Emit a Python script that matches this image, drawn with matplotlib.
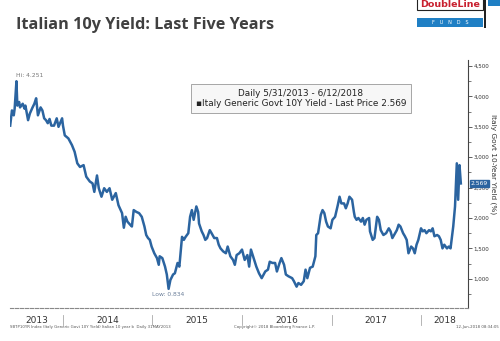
"""
Italian 10y yield, last five years (Bloomberg style chart).
"""

import matplotlib
matplotlib.use('Agg')
import matplotlib.pyplot as plt
import matplotlib.patches as mpatches
import matplotlib.transforms as mtransforms
from matplotlib.ticker import FuncFormatter, MultipleLocator

# dates as decimal years, yields in %
dates = [2013.41, 2013.43, 2013.45, 2013.46, 2013.48, 2013.49, 2013.51, 2013.52, 2013.55, 2013.57,
         2013.58, 2013.61, 2013.63, 2013.66, 2013.68, 2013.70, 2013.72, 2013.75, 2013.77, 2013.79,
         2013.81, 2013.83, 2013.85, 2013.87, 2013.90, 2013.93, 2013.95, 2013.99, 2014.00, 2014.02,
         2014.06, 2014.10, 2014.13, 2014.16, 2014.19, 2014.23, 2014.26, 2014.30, 2014.33, 2014.35,
         2014.38, 2014.40, 2014.43, 2014.46, 2014.49, 2014.52, 2014.55, 2014.59, 2014.62, 2014.66,
         2014.68, 2014.70, 2014.72, 2014.75, 2014.77, 2014.79, 2014.82, 2014.85, 2014.88, 2014.91,
         2014.93, 2014.95, 2014.97, 2014.99, 2015.02, 2015.05, 2015.07, 2015.08, 2015.11, 2015.14,
         2015.16, 2015.18, 2015.20, 2015.23, 2015.25, 2015.28, 2015.30, 2015.33, 2015.35, 2015.37,
         2015.40, 2015.42, 2015.44, 2015.46, 2015.49, 2015.51, 2015.52, 2015.55, 2015.57, 2015.59,
         2015.61, 2015.64, 2015.66, 2015.69, 2015.72, 2015.74, 2015.76, 2015.79, 2015.82, 2015.84,
         2015.87, 2015.90, 2015.92, 2015.94, 2015.97, 2016.00, 2016.03, 2016.06, 2016.08, 2016.10,
         2016.13, 2016.16, 2016.19, 2016.22, 2016.26, 2016.29, 2016.31, 2016.34, 2016.37, 2016.39,
         2016.42, 2016.44, 2016.47, 2016.49, 2016.52, 2016.56, 2016.58, 2016.61, 2016.63, 2016.66,
         2016.69, 2016.71, 2016.73, 2016.76, 2016.79, 2016.82, 2016.83, 2016.85, 2016.88, 2016.90,
         2016.92, 2016.94, 2016.96, 2016.99, 2017.01, 2017.04, 2017.07, 2017.09, 2017.11, 2017.14,
         2017.16, 2017.18, 2017.20, 2017.23, 2017.25, 2017.26, 2017.28, 2017.30, 2017.33, 2017.35,
         2017.37, 2017.39, 2017.42, 2017.43, 2017.46, 2017.48, 2017.51, 2017.53, 2017.55, 2017.58,
         2017.61, 2017.64, 2017.66, 2017.68, 2017.71, 2017.73, 2017.75, 2017.77, 2017.80, 2017.82,
         2017.84, 2017.86, 2017.89, 2017.91, 2017.93, 2017.95, 2017.97, 2018.00, 2018.02, 2018.04,
         2018.06, 2018.09, 2018.11, 2018.13, 2018.15, 2018.18, 2018.20, 2018.22, 2018.24, 2018.26,
         2018.29, 2018.31, 2018.33, 2018.36, 2018.38, 2018.40, 2018.415, 2018.43, 2018.445]
yields = [3.52, 3.77, 3.69, 3.80, 4.251, 3.85, 3.91, 3.82, 3.88, 3.80,
          3.85, 3.61, 3.72, 3.82, 3.88, 3.97, 3.69, 3.82, 3.77, 3.64,
          3.61, 3.56, 3.63, 3.52, 3.52, 3.64, 3.50, 3.64, 3.52, 3.36,
          3.31, 3.20, 3.09, 2.90, 2.84, 2.87, 2.68, 2.60, 2.57, 2.43,
          2.70, 2.49, 2.35, 2.49, 2.43, 2.49, 2.30, 2.41, 2.21, 2.08,
          1.84, 2.02, 1.94, 1.89, 1.86, 2.13, 2.10, 2.08, 2.02, 1.86,
          1.72, 1.67, 1.64, 1.53, 1.42, 1.34, 1.23, 1.37, 1.34, 1.20,
          1.07, 0.834, 0.98, 1.07, 1.09, 1.26, 1.20, 1.69, 1.64, 1.69,
          1.75, 2.02, 2.13, 1.97, 2.19, 2.10, 1.91, 1.78, 1.72, 1.64,
          1.67, 1.80, 1.75, 1.67, 1.67, 1.56, 1.50, 1.45, 1.42, 1.53,
          1.37, 1.31, 1.23, 1.39, 1.42, 1.48, 1.31, 1.39, 1.20, 1.48,
          1.34, 1.20, 1.09, 1.01, 1.12, 1.15, 1.28, 1.26, 1.26, 1.12,
          1.26, 1.34, 1.23, 1.07, 1.04, 1.01, 0.96, 0.87, 0.93, 0.90,
          0.96, 1.15, 1.01, 1.18, 1.20, 1.37, 1.72, 1.75, 2.05, 2.13,
          2.08, 1.94, 1.86, 1.83, 1.97, 2.02, 2.21, 2.35, 2.24, 2.24,
          2.16, 2.24, 2.35, 2.30, 2.10, 2.02, 1.97, 2.00, 1.94, 2.00,
          1.89, 1.97, 2.00, 1.78, 1.64, 1.67, 2.02, 1.97, 1.80, 1.72,
          1.75, 1.83, 1.78, 1.67, 1.75, 1.80, 1.89, 1.86, 1.75, 1.70,
          1.64, 1.42, 1.53, 1.50, 1.42, 1.56, 1.64, 1.83, 1.78, 1.80,
          1.75, 1.80, 1.78, 1.83, 1.70, 1.72, 1.70, 1.64, 1.50, 1.56,
          1.50, 1.53, 1.50, 1.86, 2.19, 2.90, 2.30, 2.87, 2.569]

years = [2013, 2014, 2015, 2016, 2017, 2018]
x_start = 2013.408
x_end = 2018.525

blue = '#2B64A0'

fig = plt.figure(figsize=(5, 3.41), dpi=100)
fig.patch.set_facecolor('white')
ax = fig.add_axes([0.02, 0.097, 0.916, 0.727])

ax.plot(dates, yields, color=blue, linewidth=1.8, solid_joinstyle='round')

ax.set_xlim(x_start, x_end)
ax.set_ylim(0.52, 4.6)

# spines: only right and a dotted bottom
ax.spines['top'].set_visible(False)
ax.spines['left'].set_visible(False)
ax.spines['right'].set_color('#444444')
ax.spines['right'].set_linewidth(0.8)
ax.spines['bottom'].set_color('#888888')
ax.spines['bottom'].set_linestyle((0, (3, 1.5)))
ax.spines['bottom'].set_linewidth(0.8)

# y axis on the right
ax.yaxis.tick_right()
ax.yaxis.set_minor_locator(MultipleLocator(0.25))
ax.set_yticks([1.0, 1.5, 2.0, 2.5, 3.0, 3.5, 4.0, 4.5])
ax.yaxis.set_major_formatter(FuncFormatter(lambda v, p: '{:,.3f}'.format(v).replace('.', ',')))
ax.tick_params(axis='y', which='major', length=3, width=0.6, color='#444444',
               labelsize=4.0, labelcolor='#333333', pad=1)
ax.tick_params(axis='y', which='minor', length=2, width=0.5, color='#444444')
fig.text(0.986, 0.52, 'Italy Govt 10-Year Yield (%)', rotation=-90, fontsize=5.3,
         color='#333333', ha='center', va='center')

# year labels centred in each visible year, separators at year boundaries
label_pos = [(max(y, x_start) + min(y + 1, x_end)) / 2 for y in years]
ax.set_xticks(label_pos)
ax.set_xticklabels([str(y) for y in years])
ax.tick_params(axis='x', which='major', length=0, labelsize=6.5, labelcolor='#333333', pad=6)
trans = mtransforms.blended_transform_factory(ax.transData, ax.transAxes)
for y in years[1:]:
    ax.plot([y, y], [-0.03, -0.07], transform=trans, color='#aaaaaa', linewidth=0.6, clip_on=False)

# last price flag
ax.text(1.006, 2.569, '2.569', transform=mtransforms.blended_transform_factory(ax.transAxes, ax.transData),
        ha='left', va='center', fontsize=4.3, color='white',
        bbox=dict(boxstyle='square,pad=0.15', facecolor=blue, edgecolor=blue))

# high / low annotations
ax.text(2013.48, 4.30, 'Hi: 4.251', fontsize=4.3, color='#777777', ha='left', va='bottom')
ax.text(2015.18, 0.78, 'Low: 0.834', fontsize=4.3, color='#6b7f99', ha='center', va='top')

# legend box
ax.text(0.635, 0.845, 'Daily 5/31/2013 - 6/12/2018\n\u25aaItaly Generic Govt 10Y Yield - Last Price 2.569',
        transform=ax.transAxes, ha='center', va='center', fontsize=6.4, color='#222222',
        linespacing=1.25,
        bbox=dict(boxstyle='square,pad=0.55', facecolor='#f7f7f7', edgecolor='#999999', linewidth=0.6))

# title
fig.text(0.032, 0.928, 'Italian 10y Yield: Last Five Years', fontsize=11.7, fontweight='bold',
         color='#404040', family='Open Sans', ha='left', va='center')

# footnotes
fig.text(0.02, 0.042, 'SBTP10YR Index (Italy Generic Govt 10Y Yield) Italian 10 year b  Daily 31MAY2013',
         fontsize=2.8, color='#555555', ha='left', va='center')
fig.text(0.55, 0.040, 'Copyright\u00a9 2018 Bloomberg Finance L.P.', fontsize=2.8, color='#555555',
         ha='center', va='center')
fig.text(0.998, 0.040, '12-Jun-2018 08:34:05', fontsize=2.8, color='#555555', ha='right', va='center')

# DoubleLine logo
fig.patches.append(mpatches.Rectangle((0.834, 0.970), 0.132, 0.04, transform=fig.transFigure,
                                      facecolor='white', edgecolor='#222222', linewidth=0.8))
fig.patches.append(mpatches.Rectangle((0.834, 0.921), 0.132, 0.027, transform=fig.transFigure,
                                      facecolor='#1f7fc4', edgecolor='none'))
fig.patches.append(mpatches.Rectangle((0.968, 0.918), 0.004, 0.09, transform=fig.transFigure,
                                      facecolor='#222222', edgecolor='none'))
fig.patches.append(mpatches.Rectangle((0.976, 0.982), 0.024, 0.02, transform=fig.transFigure,
                                      facecolor='#1f7fc4', edgecolor='none'))
fig.text(0.9, 0.988, 'DoubleLine', fontsize=6.8, fontweight='bold', color='#c8202f',
         ha='center', va='center')
fig.text(0.9, 0.934, 'F   U   N   D   S', fontsize=3.6, color='white', ha='center', va='center')

plt.savefig('out.png', dpi=100)
